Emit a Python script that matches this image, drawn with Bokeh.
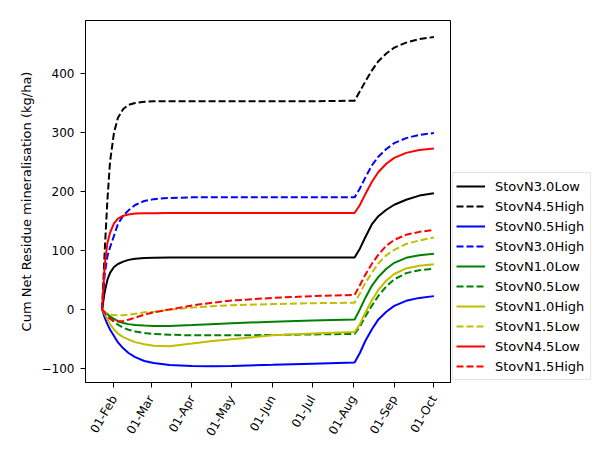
import math
import pandas as pd
from bokeh.plotting import figure
from bokeh.models import (Legend, LegendItem, FixedTicker, DatetimeTickFormatter,
                          CustomJSTickFormatter, Range1d, ColumnDataSource)
from bokeh.embed import file_html
from bokeh.resources import INLINE

dates = ["2019-01-23", "2019-01-25", "2019-01-27", "2019-01-29", "2019-02-01",
         "2019-02-04", "2019-02-08", "2019-02-12", "2019-02-17", "2019-02-24",
         "2019-03-03", "2019-03-15", "2019-04-01", "2019-04-15", "2019-05-01",
         "2019-06-01", "2019-07-01", "2019-08-02", "2019-08-06", "2019-08-10",
         "2019-08-15", "2019-08-20", "2019-08-26", "2019-09-01", "2019-09-10",
         "2019-09-20", "2019-10-01"]

stov_n30_low = [0, 30, 50, 62, 72, 77, 81, 84, 86, 87, 87.5, 88, 88, 88, 88, 88, 88,
                88, 103, 122, 144, 158, 169, 177.5, 186, 193, 197]
stov_n45_high = [0, 100, 185, 250, 300, 325, 340, 347, 350, 352, 353, 353, 353, 353, 353, 353, 353,
                 354, 370, 386, 405, 421, 434, 444, 452.5, 458.5, 462]
stov_n05_high = [0, -14, -25, -34, -45, -56, -66, -74, -81, -87.5, -91, -94.5, -96, -96.5, -96, -94, -92,
                 -90, -74, -54, -34, -17, -4, 6, 14.5, 19.5, 22.5]
stov_n30_high = [0, 60, 90, 105, 125, 145, 159, 168, 177, 184, 187, 189, 190, 190, 190, 190, 190,
                 190, 205, 223, 244, 259, 272, 282, 290.5, 296, 299]
stov_n10_low = [0, -4, -8, -12, -16, -20, -23, -25, -26.5, -27.5, -28, -28, -26.5, -25, -23.5, -21, -19,
                -17, 0, 19, 40, 55, 69, 79, 87.5, 92, 94.5]
stov_n05_low = [0, -5, -10, -15, -21, -26, -31, -34.5, -37.5, -40, -41.5, -43, -44, -44, -44, -43.5, -42.5,
                -41.5, -29.5, -12.5, 6, 23, 39, 51, 61.5, 66.5, 69]
stov_n10_high = [0, -8, -16, -25, -34, -41, -47, -51, -55.5, -59, -61.5, -62.5, -58, -54, -50.5, -44, -41,
                 -38.5, -25, -6, 15, 33, 49, 60, 69.5, 74, 76.5]
stov_n15_low = [0, -4, -7, -8.5, -9.5, -10, -10, -9, -7.5, -5, -4, -0.5, 3, 5.5, 7, 9, 10.5,
                11.3, 27, 44.5, 62, 78, 92, 101, 111, 117, 122]
stov_n45_low = [0, 75, 112, 130, 146, 154, 159, 161, 162.5, 163, 163, 163.5, 163.5, 163.5, 163.5, 163.5, 163.5,
                163.5, 177, 195, 216, 233, 247, 257, 265.5, 270.5, 273]
stov_n15_high = [0, -6, -12, -16, -19.5, -20.5, -19.5, -17.5, -14, -9, -5, 0, 6.5, 11, 15, 19.5, 22.5,
                 24.5, 41, 58.5, 77, 93, 108, 118, 126.5, 131.5, 135]

series_names = ["StovN3.0Low", "StovN4.5High", "StovN0.5High", "StovN3.0High", "StovN1.0Low",
                "StovN0.5Low", "StovN1.0High", "StovN1.5Low", "StovN4.5Low", "StovN1.5High"]
series_values = [stov_n30_low, stov_n45_high, stov_n05_high, stov_n30_high, stov_n10_low,
                 stov_n05_low, stov_n10_high, stov_n15_low, stov_n45_low, stov_n15_high]
series_colors = ["#000000", "#000000", "#0000ff", "#0000ff", "#008000",
                 "#008000", "#bfbf00", "#bfbf00", "#ff0000", "#ff0000"]
series_dashes = ["solid", "7 3", "solid", "7 3", "solid", "7 3", "solid", "7 3", "solid", "7 3"]

x_tick_dates = ["2019-02-01", "2019-03-01", "2019-04-01", "2019-05-01", "2019-06-01",
                "2019-07-01", "2019-08-01", "2019-09-01", "2019-10-01"]
y_ticks = [-100, 0, 100, 200, 300, 400]

x = pd.to_datetime(dates)
x0 = x.min()
x1 = x.max()
pad = (x1 - x0) * 0.05

FONT = "DejaVu Sans"

p = figure(x_axis_type="datetime", frame_width=365, frame_height=362,
           min_border_left=85, min_border_top=20, min_border_bottom=68, min_border_right=5,
           toolbar_location=None, output_backend="svg",
           x_range=Range1d(x0 - pad, x1 + pad), y_range=Range1d(-124, 490),
           background_fill_color="white", border_fill_color="white")

renderers = []
for name, vals, col, dash in zip(series_names, series_values, series_colors, series_dashes):
    src = ColumnDataSource(dict(x=x, y=vals))
    r = p.line("x", "y", source=src, line_color=col, line_width=2, line_dash=dash)
    renderers.append((name, r))

p.grid.visible = False
p.outline_line_color = "black"
p.outline_line_alpha = 1
p.outline_line_width = 1

tick_ms = [pd.Timestamp(d).value // 10**6 for d in x_tick_dates]
p.xaxis.ticker = FixedTicker(ticks=tick_ms)
fmt = "%d-%b"
p.xaxis.formatter = DatetimeTickFormatter(milliseconds=fmt, seconds=fmt, minsec=fmt, minutes=fmt,
                                          hourmin=fmt, hours=fmt, days=fmt, months=fmt, years=fmt)
p.xaxis.major_label_orientation = math.pi / 3
p.xaxis.major_label_text_align = "center"

p.yaxis.ticker = FixedTicker(ticks=y_ticks)
p.yaxis.formatter = CustomJSTickFormatter(
    code="return (tick < 0 ? '\u2212' : '') + Math.abs(tick).toString();")
p.yaxis.axis_label = "Cum Net Residue mineralisation (kg/ha)"
p.yaxis.axis_label_text_font = FONT
p.yaxis.axis_label_text_font_size = "13px"
p.yaxis.axis_label_text_font_style = "normal"
p.yaxis.axis_label_text_color = "black"
p.yaxis.axis_label_standoff = 5

for ax in (p.xaxis, p.yaxis):
    ax.major_label_text_font = FONT
    ax.major_label_text_font_size = "12px"
    ax.major_label_text_color = "black"
    ax.axis_line_color = "black"
    ax.major_tick_line_color = "black"
    ax.major_tick_out = 5
    ax.major_tick_in = 0
    ax.minor_tick_line_color = None
p.yaxis.major_label_standoff = 6
p.xaxis.major_label_standoff = 9

items = [LegendItem(label=n, renderers=[r]) for n, r in renderers]
legend = Legend(items=items, location="bottom_left", margin=2, padding=3, spacing=0,
                label_height=20, glyph_height=20, glyph_width=29, label_standoff=10,
                label_width=92,
                label_text_font=FONT, label_text_font_size="13px", label_text_color="black",
                border_line_color="#cccccc", border_line_width=1,
                background_fill_color="white", background_fill_alpha=0.8)
p.add_layout(legend, "right")

open("out.html", "w").write(file_html(p, INLINE))
